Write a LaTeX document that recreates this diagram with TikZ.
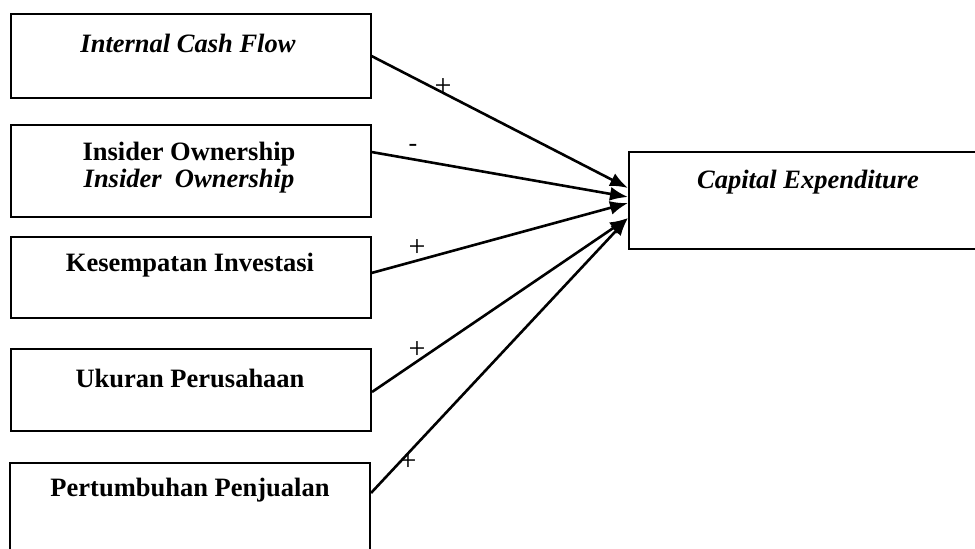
\documentclass[tikz,border=0pt]{standalone}
\usepackage{fontspec}
\setmainfont{Liberation Serif}
\usetikzlibrary{arrows.meta}
\begin{document}
\begin{tikzpicture}[x=1pt,y=-1pt,
  box/.style={draw=black,line width=2pt,inner sep=0pt,minimum width=360pt},
  btxt/.style={font=\fontsize{26.5}{30}\selectfont\bfseries,inner sep=0pt},
  itxt/.style={font=\fontsize{26.5}{30}\selectfont\bfseries\itshape,inner sep=0pt},
  sign/.style={font=\fontsize{30}{32}\selectfont,inner sep=0pt},
  arr/.style={line width=2.6pt,-{Latex[length=18pt,width=14pt]}}]
\clip (0,0) rectangle (975,549);
\fill[white] (0,0) rectangle (975,549);
% boxes
\node[box,minimum height=84pt] (b1) at (190.5,55.5) {};
\node[box,minimum height=92pt] (b2) at (190.5,171) {};
\node[box,minimum height=81pt] (b3) at (190.5,277.5) {};
\node[box,minimum height=82pt] (b4) at (191,390) {};
\node[box,minimum height=100pt] (b5) at (190,513) {};
\node[draw=black,line width=2pt,inner sep=0pt,minimum width=350pt,minimum height=97pt] (ce) at (804,200.5) {};
% texts
\node[itxt] (t1) at (188,43) {Internal Cash Flow};
\node[btxt] (t2a) at (189,154) {Insider Ownership};
\node[itxt] (t2b) at (189,181) {Insider\ \ Ownership};
\node[btxt] (t3) at (190,265) {Kesempatan Investasi};
\node[btxt] (t4) at (190,378) {Ukuran Perusahaan};
\node[btxt] (t5) at (190,490) {Pertumbuhan Penjualan};
\node[itxt] (t6) at (808,182) {Capital Expenditure};
% arrows
\draw[arr] (b1.east |- 0,56) -- (ce.west |- 0,188);
\draw[arr] (b2.east |- 0,152) -- (ce.west |- 0,197);
\draw[arr] (b3.east |- 0,273) -- (ce.west |- 0,203);
\draw[arr] (b4.east |- 0,392) -- (ce.west |- 0,218);
\draw[arr] (b5.east |- 0,493) -- (ce.west |- 0,218);
% signs
\node[sign] (s1) at (443,87) {+};
\node[sign,font=\fontsize{26}{28}\selectfont] (s2) at (413,148) {-};
\node[sign] (s3) at (417,248) {+};
\node[sign] (s4) at (417,350) {+};
\node[sign] (s5) at (408,462) {+};
\end{tikzpicture}
\end{document}
